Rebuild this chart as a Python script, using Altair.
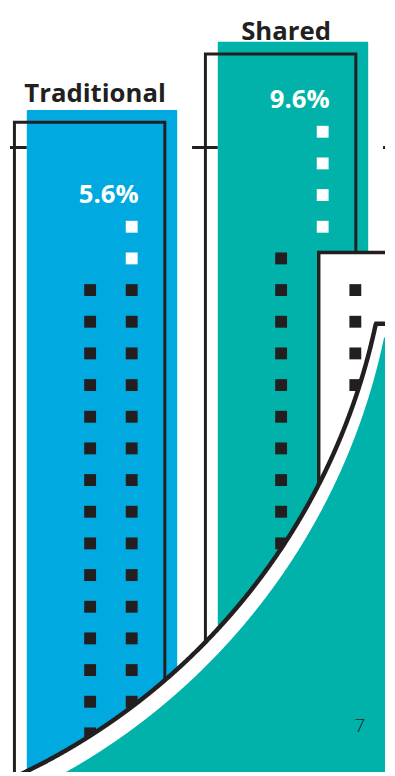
import altair as alt
import numpy as np
import pandas as pd

# ---------------- data ----------------
categories = ["Traditional", "Shared"]
values = [5.6, 9.6]
value_labels = ["5.6%", "9.6%"]
bar_colors = ["#00A9E0", "#00B2A9"]

# dot strips: one entry per column of squares
sq_category = ["Traditional", "Traditional", "Shared", "Shared", "Shared"]
sq_column = [0, 1, 0, 1, 2]
sq_first_row = [5, 3, 4, 0, 5]
sq_white = [0, 2, 0, 4, 0]
sq_black = [15, 15, 10, 0, 4]

page_number = ["7"]

# ---------------- style / layout ----------------
INK = "#231F20"
TEAL = bar_colors[1]
FONT = "Open Sans"

W, H = 379, 768          # plot area (page minus 8px margin)
M = 8
XS = alt.Scale(domain=[M, M + W], nice=False, zero=False)
YS = alt.Scale(domain=[M, M + H], reverse=True, nice=False, zero=False)

BAR_LEFT0, BAR_STEP, BAR_W = 25, 193, 152
ZERO_Y, PX_PER_PT = 203.6, 17.25
VS = alt.Scale(domain=[0, 12], range=[ZERO_Y - M, ZERO_Y - M - 12 * PX_PER_PT],
               nice=False, zero=False)
OUT_D = 12.5
COL_DX = [64, 106, 139]
ROW0, ROW_PITCH, SQ = 129, 32, 12
BOTTOM = M + H + 60
LABEL_SIZE = 26
LABEL_DY = {"Traditional": -8, "Shared": -2}   # keep the top label inside the page

bars = pd.DataFrame({"category": categories, "value": values,
                     "label": value_labels, "color": bar_colors})
bars["xl"] = [BAR_LEFT0 + BAR_STEP * i for i in range(len(categories))]
bars["xr"] = bars["xl"] + BAR_W
bars["label_x"] = bars["xl"] + 69

rows = []
first_white = {}
for cat, col, first, nw, nb in zip(sq_category, sq_column, sq_first_row, sq_white, sq_black):
    left = bars.loc[bars.category == cat, "xl"].iloc[0]
    if nw > 0:
        first_white[cat] = min(first_white.get(cat, 99), first)
    for k in range(nw + nb):
        rows.append({"category": cat, "column": col, "x": left + COL_DX[col],
                     "y": ROW0 + ROW_PITCH * (first + k),
                     "color": "#FFFFFF" if k < nw else INK})
squares = pd.DataFrame(rows)

bars["vx"] = bars["xl"] + 113
bars["vy"] = [ROW0 + ROW_PITCH * first_white[c] - 24 for c in categories]

shared_left = bars.loc[bars.category == "Shared", "xl"].iloc[0]
inset = pd.DataFrame({"x": [shared_left + 102], "x2": [M + W + 40],
                      "y": [ROW0 + ROW_PITCH * 4 - 6], "y2": [BOTTOM]})

# decorative sweeping arc (circle segments)
ARC_CX, ARC_CY, ARC_R, ARC_TOP = -263, 187, 655, 323
TEAL_CX, TEAL_CY, TEAL_R, TEAL_TOP = -259, 202, 659, 337
xs = np.arange(-20, M + W + 20.5, 0.5)


def lower_arc(x, cx, cy, r, top):
    d = r * r - (x - cx) ** 2
    y = np.where(d > 0, cy + np.sqrt(np.clip(d, 0, None)), top)
    return np.clip(np.maximum(y, top), None, BOTTOM)


arc_df = pd.DataFrame({"x": xs, "top": lower_arc(xs, ARC_CX, ARC_CY, ARC_R, ARC_TOP),
                       "bot": BOTTOM})
teal_df = pd.DataFrame({"x": xs, "top": lower_arc(xs, TEAL_CX, TEAL_CY, TEAL_R, TEAL_TOP),
                        "bot": BOTTOM})
line_df = arc_df.sort_values("x", ascending=False).reset_index(drop=True)
line_df["i"] = np.arange(len(line_df))

pn = pd.DataFrame({"text": page_number, "x": [361.5], "y": [736]})
hline = pd.DataFrame({"y": [145]})

X = lambda f: alt.X(f, scale=XS, axis=None)
Y = lambda f: alt.Y(f, scale=YS, axis=None)
NOCOLOR = lambda f: alt.Color(f, scale=None, legend=None)

rule = alt.Chart(hline).mark_rule(color=INK, strokeWidth=3, strokeDash=[26, 167],
                                  strokeDashOffset=9).encode(
    x=alt.value(0), x2=alt.value(W), y=Y("y:Q"))

bar_layer = alt.Chart(bars).mark_rect(cornerRadius=1, clip=True).encode(
    x=X("xl:Q"), x2="xr:Q", y=alt.Y("value:Q", scale=VS, axis=None),
    y2=alt.value(H + 40), color=NOCOLOR("color:N"))

outline = alt.Chart(bars).mark_rect(
    fill="white", fillOpacity=0, stroke=INK, strokeWidth=3, clip=True,
    xOffset=-OUT_D, x2Offset=-OUT_D, yOffset=OUT_D, y2Offset=OUT_D).encode(
    x=X("xl:Q"), x2="xr:Q", y=alt.Y("value:Q", scale=VS, axis=None),
    y2=alt.value(H + 40))

sq_main = alt.Chart(squares[squares.column < 2]).mark_square(size=SQ * SQ, opacity=1).encode(
    x=X("x:Q"), y=Y("y:Q"), color=NOCOLOR("color:N"))

inset_box = alt.Chart(inset).mark_rect(fill="white", stroke=INK, strokeWidth=3.5,
                                       clip=True).encode(
    x=X("x:Q"), x2="x2:Q", y=Y("y:Q"), y2="y2:Q")

sq_inset = alt.Chart(squares[squares.column == 2]).mark_square(size=SQ * SQ, opacity=1).encode(
    x=X("x:Q"), y=Y("y:Q"), color=NOCOLOR("color:N"))

arc_fill = alt.Chart(arc_df).mark_area(color="white", clip=True).encode(
    x=X("x:Q"), y=Y("top:Q"), y2="bot:Q")

arc_line = alt.Chart(line_df).mark_line(color=INK, strokeWidth=4.5, clip=True).encode(
    x=X("x:Q"), y=Y("top:Q"), order="i:Q")

teal_fill = alt.Chart(teal_df).mark_area(color=TEAL, clip=True).encode(
    x=X("x:Q"), y=Y("top:Q"), y2="bot:Q")

cat_texts = [
    alt.Chart(bars).transform_filter(alt.datum.category == c).mark_text(
        font=FONT, fontWeight="bold", fontSize=LABEL_SIZE, color=INK,
        align="center", baseline="alphabetic", dy=LABEL_DY[c]).encode(
        x=X("label_x:Q"), y=alt.Y("value:Q", scale=VS, axis=None), text="category:N")
    for c in categories
]

val_text = alt.Chart(bars).mark_text(font=FONT, fontWeight="bold", fontSize=26, color="white",
                                     align="right", baseline="alphabetic").encode(
    x=X("vx:Q"), y=Y("vy:Q"), text="label:N")

pn_text = alt.Chart(pn).mark_text(font=FONT, fontWeight=300, fontSize=19, color=INK,
                                  align="center", baseline="alphabetic").encode(
    x=X("x:Q"), y=Y("y:Q"), text="text:N")

chart = alt.layer(
    rule, bar_layer, outline, sq_main, inset_box, sq_inset,
    arc_fill, arc_line, teal_fill, *cat_texts, val_text, pn_text
).resolve_scale(y="independent").properties(
    width=W, height=H, padding=0, background="white"
).configure_view(stroke=None)

chart.save("out.html", embed_options={"renderer": "svg", "actions": False})
